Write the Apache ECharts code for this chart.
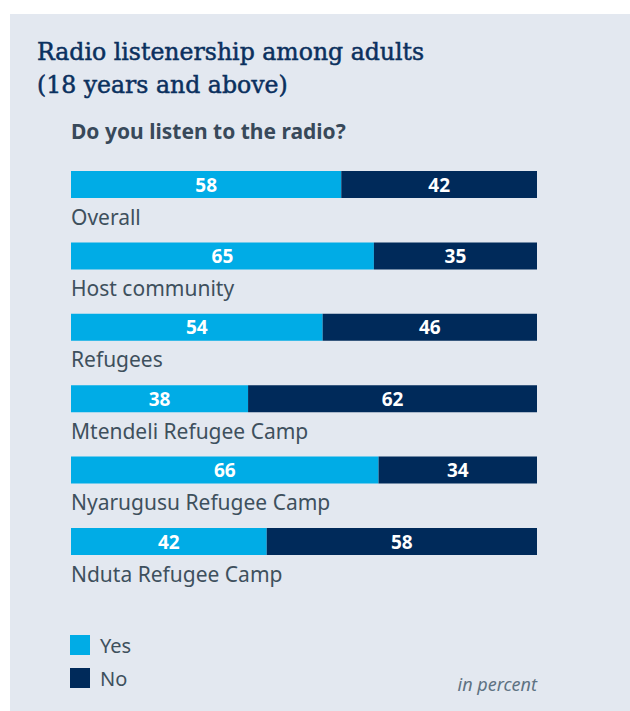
<!DOCTYPE html>
<html>
<head>
<meta charset="utf-8">
<title>Radio listenership among adults</title>
<script src="https://cdn.jsdelivr.net/npm/echarts@6/dist/echarts.min.js"></script>
<style>
  html, body { margin: 0; padding: 0; background: #ffffff; }
  #chart { width: 630px; height: 711px; }
</style>
</head>
<body>
<div id="chart"></div>
<script>
// Survey groups, top to bottom
const categories = [
  'Overall',
  'Host community',
  'Refugees',
  'Mtendeli Refugee Camp',
  'Nyarugusu Refugee Camp',
  'Nduta Refugee Camp'
];
// Share answering "Yes" / "No", in percent
const yesValues = [58, 65, 54, 38, 66, 42];
const noValues  = [42, 35, 46, 62, 34, 58];

const titleLines = ['Radio listenership among adults', '(18 years and above)'];
const question = 'Do you listen to the radio?';
const unitNote = 'in percent';

const COLOR_YES = '#00ace6';
const COLOR_NO = '#002a5a';
const PANEL_BG = '#e3e8f0';
const TEXT_COLOR = '#3e505d';
const TITLE_COLOR = '#0b305e';
const SANS = '"Noto Sans", "Open Sans", sans-serif';

const chart = echarts.init(document.getElementById('chart'), null, { renderer: 'svg' });

const barLabel = {
  show: true,
  position: 'inside',
  color: '#ffffff',
  fontFamily: SANS,
  fontWeight: 'bold',
  fontSize: 19
};

chart.setOption({
  backgroundColor: '#ffffff',
  animation: false,
  graphic: [
    {
      type: 'rect',
      z: -10,
      silent: true,
      shape: { x: 10, y: 14, width: 620, height: 697 },
      style: { fill: PANEL_BG }
    },
    {
      type: 'text',
      x: 37,
      y: 35,
      style: {
        text: titleLines.join('\n'),
        fill: TITLE_COLOR,
        // a thin outline gives the serif heading a little more weight
        stroke: TITLE_COLOR,
        lineWidth: 0.5,
        font: '23.6px "DejaVu Serif", serif',
        lineHeight: 33,
        align: 'left',
        verticalAlign: 'top'
      }
    },
    {
      type: 'text',
      x: 71,
      y: 131,
      style: {
        text: question,
        fill: '#38495a',
        font: 'bold 21px ' + SANS,
        align: 'left',
        verticalAlign: 'middle'
      }
    },
    {
      type: 'text',
      x: 537,
      y: 684,
      style: {
        text: unitNote,
        fill: '#5e7282',
        font: 'italic 18px ' + SANS,
        align: 'right',
        verticalAlign: 'middle'
      }
    }
  ],
  legend: {
    orient: 'vertical',
    left: 70,
    top: 635,
    padding: 0,
    icon: 'rect',
    itemWidth: 20,
    itemHeight: 20,
    itemGap: 13,
    selectedMode: false,
    textStyle: {
      fontFamily: SANS,
      fontSize: 20,
      color: TEXT_COLOR,
      padding: [0, 0, 0, 5]
    },
    data: ['Yes', 'No']
  },
  grid: {
    left: 71,
    right: 93,
    top: 148.8,
    bottom: 133.8,
    containLabel: false
  },
  xAxis: {
    type: 'value',
    min: 0,
    max: 100,
    show: false
  },
  yAxis: {
    type: 'category',
    inverse: true,
    data: categories,
    axisLine: { show: false },
    axisTick: { show: false },
    splitLine: { show: false },
    axisLabel: {
      inside: true,
      interval: 0,
      showMinLabel: true,
      showMaxLabel: true,
      hideOverlap: false,
      margin: 0,
      align: 'left',
      verticalAlign: 'middle',
      // an empty first line pushes each group name below its bar
      formatter: (name) => '\n' + name,
      lineHeight: 64,
      fontFamily: SANS,
      fontSize: 21,
      color: TEXT_COLOR
    }
  },
  series: [
    {
      name: 'Yes',
      type: 'bar',
      stack: 'answer',
      barWidth: 27,
      itemStyle: { color: COLOR_YES },
      label: barLabel,
      data: yesValues
    },
    {
      name: 'No',
      type: 'bar',
      stack: 'answer',
      barWidth: 27,
      itemStyle: { color: COLOR_NO },
      label: barLabel,
      data: noValues
    }
  ]
});
</script>
</body>
</html>
